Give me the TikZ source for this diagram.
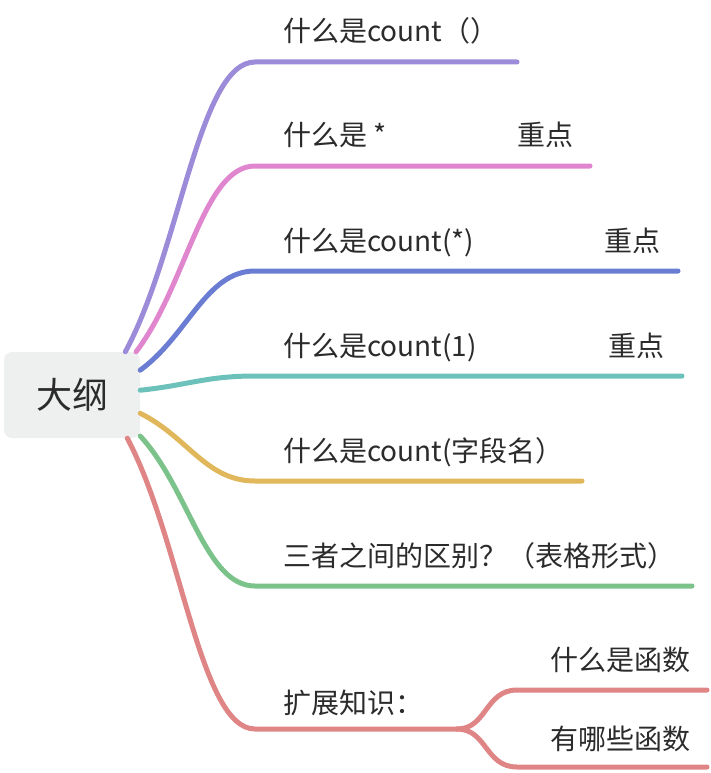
\documentclass[tikz,border=0pt]{standalone}
\usepackage{fontspec}
\setmainfont{Noto Sans CJK SC}
\usepackage{xcolor}
\definecolor{cRootFill}{HTML}{EEF0F0}
\definecolor{cText}{HTML}{2B2B2B}
\definecolor{cPurple}{HTML}{9B8BD8}
\definecolor{cPink}{HTML}{DF86CE}
\definecolor{cBlue}{HTML}{6A7DD2}
\definecolor{cTeal}{HTML}{6CC2BA}
\definecolor{cGold}{HTML}{E1B75C}
\definecolor{cGreen}{HTML}{7CC38B}
\definecolor{cRed}{HTML}{DF8585}
\usetikzlibrary{calc}
\tikzset{
  node-root/.style={fill=cRootFill,rounded corners=8pt,inner sep=0pt,
    minimum width=136pt,minimum height=86pt,text=cText,
    font=\fontsize{36}{40}\selectfont},
  node-topic/.style={anchor=base west,inner sep=0pt,text=cText,
    font=\fontsize{28}{32}\selectfont},
  branch/.style={line width=5pt,line cap=round},
}

\begin{document}
\begin{tikzpicture}[x=1pt,y=-1pt]
  \useasboundingbox (0,0) rectangle (710,773);
  \node[node-root] (root) at (72,395) {大纲};
  % 各分支的横线端点
  \coordinate (b1s) at (255,62);  \coordinate (b1e) at (517,62);
  \coordinate (b2s) at (255,166); \coordinate (b2e) at (590,166);
  \coordinate (b3s) at (255,271); \coordinate (b3e) at (678,271);
  \coordinate (b4s) at (255,376); \coordinate (b4e) at (682,376);
  \coordinate (b5s) at (255,481); \coordinate (b5e) at (582,481);
  \coordinate (b6s) at (255,586); \coordinate (b6e) at (692,586);
  \coordinate (b7s) at (255,729); \coordinate (b7e) at (457,729);
  \coordinate (s1s) at (517,690); \coordinate (s1e) at (707,690);
  \coordinate (s2s) at (517,767); \coordinate (s2e) at (707,767);
  \draw[branch,cPurple] (root.39)  .. controls +(55,-102) and +(-56,0) .. (b1s) -- (b1e);
  \draw[branch,cPink]   (root.34)  .. controls +(50,-65) and +(-52,0) .. (b2s) -- (b2e);
  \draw[branch,cBlue]   (root.20)  .. controls +(48,-35) and +(-49,0) .. (b3s) -- (b3e);
  \draw[branch,cTeal]   (root.4)   .. controls +(48,-5) and +(-49,0) .. (b4s) -- (b4e);
  \draw[branch,cGold]   (root.-15) .. controls +(48,24) and +(-49,0) .. (b5s) -- (b5e);
  \draw[branch,cGreen]  (root.-31) .. controls +(49,53) and +(-50,0) .. (b6s) -- (b6e);
  \draw[branch,cRed]    (root.-38) .. controls +(54,102) and +(-55,0) .. (b7s) -- (b7e);
  \draw[branch,cRed] (b7e) .. controls +(30,0) and +(-32,0) .. (s1s) -- (s1e);
  \draw[branch,cRed] (b7e) .. controls +(30,0) and +(-32,0) .. (s2s) -- (s2e);
  \node[node-topic] (t1) at (283,42)  {什么是count（）};
  \node[node-topic] (t2) at (283,146) {什么是 *};
  \node[node-topic] (k2) at (517,146) {重点};
  \node[node-topic] (t3) at (283,251) {什么是count(*)};
  \node[node-topic] (k3) at (604,251) {重点};
  \node[node-topic] (t4) at (283,356) {什么是count(1)};
  \node[node-topic] (k4) at (608,356) {重点};
  \node[node-topic] (t5) at (283,461) {什么是count(字段名）};
  \node[node-topic] (t6) at (283,566) {三者之间的区别？（表格形式）};
  \node[node-topic] (t7) at (283,713) {扩展知识：};
  \node[node-topic] (t71) at (550,670) {什么是函数};
  \node[node-topic] (t72) at (550,749) {有哪些函数};
\end{tikzpicture}
\end{document}
